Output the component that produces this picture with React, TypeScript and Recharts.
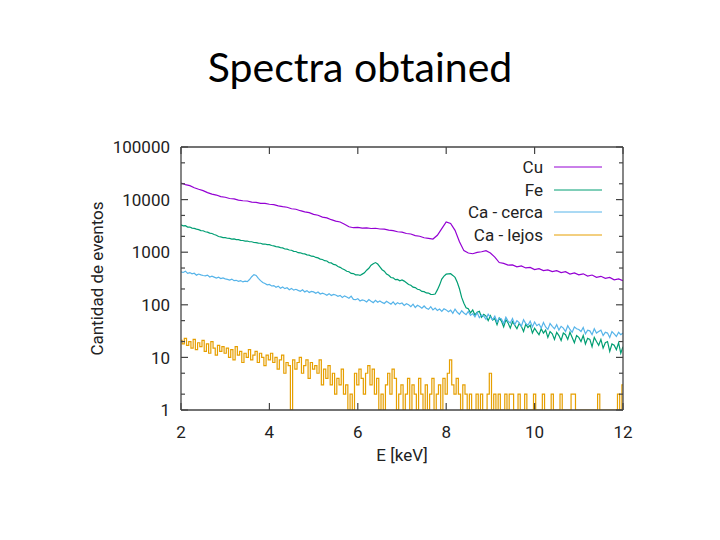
import React from "react";
import { LineChart, Line, XAxis, YAxis, Legend } from "recharts";

// energy bins (keV)
const E_START = 2;
const CU_STEP = 0.1;
const FINE_STEP = 0.05;

const xTicks = [2, 4, 6, 8, 10, 12];
const yTicks = [1, 2, 5, 10, 20, 50, 100, 200, 500, 1000, 2000, 5000, 10000, 20000, 50000, 100000];
const yLabelled = [1, 10, 100, 1000, 10000, 100000];

// Cu, 0.1 keV bins from 2.0 keV
const cuCounts = [
  20700, 19300, 18400, 16800, 15700, 14800, 13600, 12700, 12200, 11400,
  11100, 10500, 10300, 9800, 9500, 9400, 8950, 8850, 8500, 8450,
  8150, 8000, 7600, 7350, 7150, 6700, 6550, 6150, 5850, 5650,
  5250, 5050, 4650, 4500, 4150, 3900, 3750, 3400, 3050, 2920,
  2960, 2870, 2900, 2820, 2850, 2760, 2740, 2620, 2580, 2450,
  2400, 2270, 2220, 2070, 2010, 1880, 1830, 1780, 2100, 2800,
  3750, 3520, 2600, 1580, 1070, 965, 935, 995, 1020, 1070,
  965, 805, 635, 612, 568, 575, 528, 548, 502, 515,
  468, 485, 448, 462, 428, 446, 410, 425, 385, 404,
  372, 388, 352, 368, 333, 348, 318, 332, 298, 310,
  288,
];

// Fe, 0.05 keV bins from 2.0 keV
const feCounts = [
  3300, 3180, 3190, 3000, 3010, 2870, 2830, 2740, 2680, 2580,
  2560, 2450, 2400, 2310, 2270, 2170, 2100, 1990, 1950, 1900,
  1890, 1840, 1830, 1780, 1785, 1730, 1730, 1680, 1670, 1630,
  1630, 1580, 1580, 1530, 1525, 1490, 1480, 1430, 1430, 1390,
  1390, 1340, 1320, 1280, 1260, 1220, 1210, 1150, 1140, 1100,
  1090, 1040, 1030, 980, 975, 940, 930, 890, 880, 840,
  835, 795, 780, 740, 728, 690, 680, 630, 625, 585,
  575, 535, 515, 485, 465, 435, 425, 395, 392, 372,
  372, 362, 383, 405, 455, 495, 565, 605, 635, 595,
  525, 465, 435, 385, 365, 330, 325, 300, 303, 286,
  296, 282, 262, 243, 235, 217, 212, 197, 193, 180,
  178, 168, 167, 158, 157, 160, 192, 237, 308, 352,
  382, 388, 390, 362, 332, 268, 202, 138, 107, 88,
  84, 70, 80, 64, 72, 75, 58, 66, 61, 50,
  62, 51, 55, 42, 56, 49, 38, 52, 45, 36,
  48, 41, 35, 44, 39, 31, 43, 37, 41, 29,
  36, 31, 27, 35, 29, 33, 24, 31, 28, 22,
  30, 26, 21, 29, 27, 22, 30, 24, 19, 26,
  24, 20, 26, 18, 23, 22, 16, 24, 20, 17,
  22, 15, 19, 20, 13, 18, 17, 14, 19, 12,
  16,
];

// Ca - cerca, 0.05 keV bins from 2.0 keV
const caCercaCounts = [
  425, 412, 436, 395, 410, 388, 398, 366, 384, 370,
  360, 354, 366, 338, 350, 336, 322, 334, 316, 324,
  312, 305, 296, 308, 288, 292, 280, 289, 272, 281,
  276, 302, 342, 374, 362, 318, 288, 266, 254, 240,
  244, 228, 232, 216, 226, 206, 218, 203, 211, 194,
  205, 190, 197, 188, 181, 193, 176, 186, 171, 180,
  176, 166, 175, 160, 167, 161, 152, 163, 150, 158,
  154, 145, 151, 138, 148, 141, 133, 146, 127, 125,
  131, 118, 124, 121, 113, 126, 117, 110, 122, 112,
  118, 111, 106, 117, 109, 103, 114, 101, 110, 104,
  108, 97, 105, 100, 92, 103, 89, 98, 93, 86,
  95, 86, 82, 92, 80, 87, 78, 83, 75, 84,
  80, 74, 79, 69, 83, 72, 66, 77, 70, 65,
  75, 63, 68, 59, 71, 57, 64, 61, 53, 66,
  58, 52, 61, 47, 56, 54, 44, 58, 49, 45,
  55, 42, 50, 46, 39, 52, 44, 41, 49, 38,
  47, 40, 43, 36, 46, 38, 34, 44, 39, 35,
  42, 33, 39, 36, 31, 40, 34, 30, 38, 35,
  34, 31, 37, 28, 33, 32, 27, 35, 29, 31,
  33, 26, 30, 29, 24, 31, 28, 25, 30, 27,
  29,
];

// Ca - lejos, 0.05 keV bins from 2.0 keV (empty bins drawn at 1)
const caLejosCounts = [
  21, 18, 23, 17, 20, 15, 22, 14, 19, 16, 21,
  13, 18, 12, 20, 15, 11, 17, 13, 16, 12,
  15, 10, 14, 9, 16, 11, 13, 8, 12, 10,
  14, 9, 11, 13, 8, 12, 10, 7, 11, 9,
  12, 8, 10, 6, 9, 11, 5, 8, 7, 1,
  9, 6, 8, 10, 5, 7, 9, 4, 8, 6,
  7, 5, 9, 3, 6, 4, 7, 3, 5, 2,
  4, 3, 6, 2, 3, 1, 2, 1, 5, 3,
  6, 4, 2, 5, 7, 3, 6, 2, 4, 1,
  2, 1, 3, 5, 2, 6, 4, 1, 2, 3,
  1, 2, 4, 1, 3, 2, 1, 4, 2, 1,
  3, 1, 2, 4, 1, 2, 3, 1, 4, 2,
  5, 9, 3, 2, 4, 2, 1, 3, 2, 1,
  2, 1, 1, 2, 1, 2, 1, 1, 2, 5,
  1, 2, 1, 2, 1, 1, 2, 1, 2, 2,
  1, 1, 2, 1, 1, 2, 1, 1, 1, 2,
  1, 1, 1, 2, 1, 1, 1, 2, 1, 1,
  1, 2, 1, 1, 1, 1, 2, 2, 1, 1,
  1, 1, 1, 1, 1, 1, 1, 1, 2, 1,
  1, 1, 1, 1, 1, 1, 1, 2, 1, 3,
];

const series = [
  { name: "Cu", color: "#9400d3", counts: cuCounts, step: CU_STEP, type: "linear" },
  { name: "Fe", color: "#009e73", counts: feCounts, step: FINE_STEP, type: "linear" },
  { name: "Ca - cerca", color: "#56b4e9", counts: caCercaCounts, step: FINE_STEP, type: "linear" },
  { name: "Ca - lejos", color: "#e69f00", counts: caLejosCounts, step: FINE_STEP, type: "step" },
];

const toPoints = (counts: number[], step: number) =>
  counts.map((v, i) => ({ e: Math.round((E_START + i * step) * 100) / 100, v }));

const AXIS = "#444";
const FONT = "Roboto, sans-serif";
const TXT = "#222";

const LeftTick = (p: any) => {
  const major = yLabelled.includes(p.payload.value);
  return (
    <g>
      <line x1={p.x} x2={p.x + (major ? 7 : 4)} y1={p.y} y2={p.y} stroke={AXIS} strokeWidth={1.2} />
      {major && (
        <text x={p.x - 11} y={p.y} dy="0.36em" textAnchor="end" fontFamily={FONT} fontSize={17} fill={TXT}>
          {p.payload.value}
        </text>
      )}
    </g>
  );
};

const RightTick = (p: any) => {
  const major = yLabelled.includes(p.payload.value);
  return <line x1={p.x} x2={p.x - (major ? 7 : 4)} y1={p.y} y2={p.y} stroke={AXIS} strokeWidth={1.2} />;
};

const BottomTick = (p: any) => (
  <g>
    <line x1={p.x} x2={p.x} y1={p.y} y2={p.y - 7} stroke={AXIS} strokeWidth={1.2} />
    <text x={p.x} y={p.y + 28} textAnchor="middle" fontFamily={FONT} fontSize={17} fill={TXT}>
      {p.payload.value}
    </text>
  </g>
);

const TopTick = (p: any) => (
  <line x1={p.x} x2={p.x} y1={p.y} y2={p.y + 7} stroke={AXIS} strokeWidth={1.2} />
);

const LegendBox = () => (
  <div style={{ fontFamily: FONT, fontSize: 17, color: TXT }}>
    {series.map((s) => (
      <div key={s.name} style={{ height: 22.5, display: "flex", alignItems: "center", justifyContent: "flex-end" }}>
        <span>{s.name}</span>
        <svg width={48} height={4} style={{ marginLeft: 11 }}>
          <line x1={0} x2={48} y1={2} y2={2} stroke={s.color} strokeWidth={1} />
        </svg>
      </div>
    ))}
  </div>
);

export default function App() {
  return (
    <div style={{ position: "absolute", left: 0, top: 0, width: 720, height: 540, background: "#fff" }}>
      <div
        style={{
          position: "absolute",
          left: 0,
          top: 46,
          width: 720,
          textAlign: "center",
          fontFamily: "Lato, sans-serif",
          fontSize: 41,
          lineHeight: 1,
          color: "#000",
        }}
      >
        Spectra obtained
      </div>
      <div style={{ position: "absolute", left: 0, top: 0 }}>
        <LineChart width={720} height={540} margin={{ top: 137, right: 87, bottom: 70, left: 93 }}>
          <XAxis
            dataKey="e"
            type="number"
            domain={[2, 12]}
            ticks={xTicks}
            interval={0}
            allowDataOverflow
            height={60}
            tickSize={0}
            tickMargin={0}
            tickLine={false}
            stroke={AXIS}
            strokeWidth={1.3}
            tick={(p: any) => <BottomTick {...p} />}
            label={{ value: "E [keV]", position: "insideTop", offset: 39, fill: TXT, fontSize: 17, fontFamily: FONT }}
          />
          <XAxis
            xAxisId="top"
            orientation="top"
            dataKey="e"
            type="number"
            domain={[2, 12]}
            ticks={xTicks}
            interval={0}
            allowDataOverflow
            height={10}
            tickSize={0}
            tickMargin={0}
            tickLine={false}
            stroke={AXIS}
            strokeWidth={1.3}
            tick={(p: any) => <TopTick {...p} />}
          />
          <YAxis
            type="number"
            scale="log"
            domain={[1, 100000]}
            ticks={yTicks}
            interval={0}
            allowDataOverflow
            width={88}
            tickSize={0}
            tickMargin={0}
            tickLine={false}
            stroke={AXIS}
            strokeWidth={1.3}
            tick={(p: any) => <LeftTick {...p} />}
            label={{
              value: "Cantidad de eventos",
              angle: -90,
              position: "insideLeft",
              offset: 4,
              fill: TXT,
              fontSize: 17,
              fontFamily: FONT,
              style: { textAnchor: "middle" },
            }}
          />
          <YAxis
            yAxisId="right"
            orientation="right"
            type="number"
            scale="log"
            domain={[1, 100000]}
            ticks={yTicks}
            interval={0}
            allowDataOverflow
            width={10}
            tickSize={0}
            tickMargin={0}
            tickLine={false}
            stroke={AXIS}
            strokeWidth={1.3}
            tick={(p: any) => <RightTick {...p} />}
          />
          <Legend
            layout="vertical"
            align="center"
            verticalAlign="middle"
            content={() => <LegendBox />}
            wrapperStyle={{ top: 156, left: 400, width: 202, right: "auto", bottom: "auto" }}
          />
          {series.map((s) => (
            <Line
              key={s.name}
              name={s.name}
              data={toPoints(s.counts, s.step)}
              dataKey="v"
              type={s.type as any}
              stroke={s.color}
              strokeWidth={1.2}
              dot={false}
              activeDot={false}
              isAnimationActive={false}
            />
          ))}
        </LineChart>
      </div>
    </div>
  );
}
